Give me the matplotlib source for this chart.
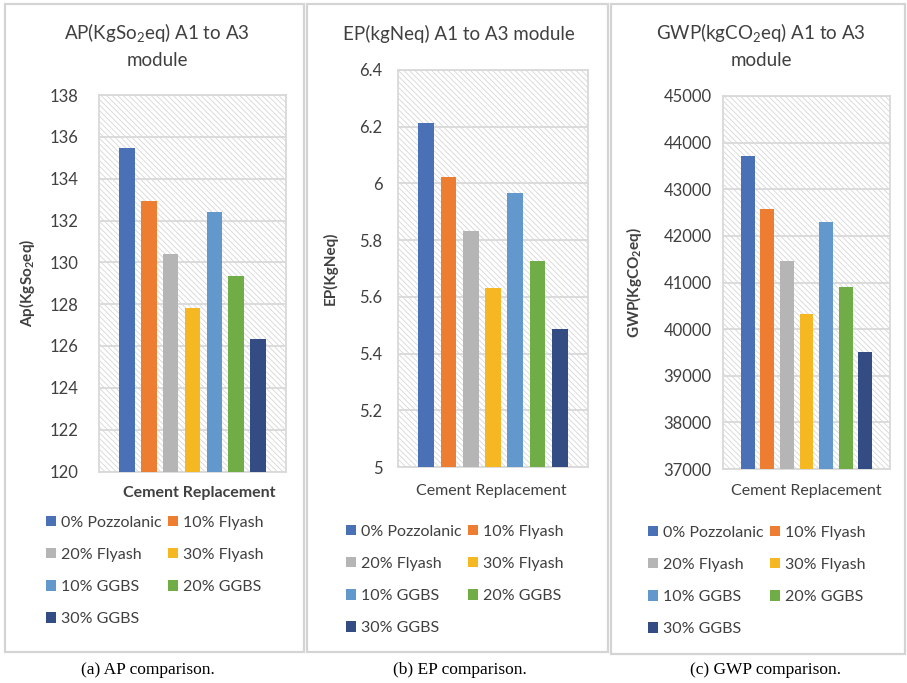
import matplotlib
matplotlib.use('Agg')
import matplotlib.pyplot as plt
from matplotlib.patches import Rectangle, Patch

plt.rcParams['font.family'] = ['Lato', 'DejaVu Sans']
plt.rcParams['mathtext.fontset'] = 'custom'
plt.rcParams['mathtext.rm'] = 'Lato'
plt.rcParams['mathtext.bf'] = 'Lato:bold'
plt.rcParams['hatch.linewidth'] = 0.6

SERIES = ['0% Pozzolanic', '10% Flyash', '20% Flyash', '30% Flyash',
          '10% GGBS', '20% GGBS', '30% GGBS']
COLORS = ['#4A70B5', '#ED7D31', '#B5B5B5', '#F5B822', '#6298CC', '#70AD47', '#334C84']

AP = [135.47, 132.94, 130.40, 127.84, 132.41, 129.35, 126.34]
EP = [6.212, 6.023, 5.832, 5.631, 5.968, 5.728, 5.488]
GWP = [43713, 42576, 41454, 40324, 42297, 40903, 39502]

AP_TICKS = [120, 122, 124, 126, 128, 130, 132, 134, 136, 138]
EP_TICKS = [5, 5.2, 5.4, 5.6, 5.8, 6, 6.2, 6.4]
EP_TICKLABELS = ['5', '5.2', '5.4', '5.6', '5.8', '6', '6.2', '6.4']
GWP_TICKS = [37000, 38000, 39000, 40000, 41000, 42000, 43000, 44000, 45000]

W, H = 907, 683
fig = plt.figure(figsize=(W / 100, H / 100), dpi=100)
fig.patch.set_facecolor('white')


def px_axes(l, t, r, b):
    return fig.add_axes([l / W, (H - b) / H, (r - l) / W, (b - t) / H])


def ftext(x, y, s, **kw):
    fig.text(x / W, 1 - y / H, s, ha='center', va='center', **kw)


def panel_box(l, t, r, b):
    fig.add_artist(Rectangle((l / W, 1 - b / H), (r - l) / W, (b - t) / H,
                             transform=fig.transFigure, fill=False,
                             edgecolor='#d4d4d4', lw=1.6))


def draw(box, vals, ticks, ticklabels, pad):
    ax = px_axes(*box)
    ax.add_patch(Rectangle((0, 0), 1, 1, transform=ax.transAxes, facecolor='white',
                           edgecolor='#d6d6d6', hatch='\\' * 6, lw=0, zorder=0))
    pitch, width = 0.117, 0.083
    for i, (v, c) in enumerate(zip(vals, COLORS)):
        ax.bar((i - 3) * pitch, v - ticks[0], bottom=ticks[0], width=width,
               color=c, zorder=3)
    ax.set_xlim(-0.5, 0.5)
    ax.set_ylim(ticks[0], ticks[-1])
    ax.set_yticks(ticks)
    ax.set_yticklabels(ticklabels)
    ax.set_xticks([])
    ax.tick_params(axis='y', length=0, pad=pad, labelsize=12, labelcolor='#404040')
    ax.grid(axis='y', color='#d9d9d9', lw=1.3, zorder=1)
    ax.set_axisbelow(False)
    for s in ax.spines.values():
        s.set_color('#d9d9d9')
        s.set_linewidth(1.3)
        s.set_zorder(2)
    return ax


def legend(x, y):
    handles = [Patch(facecolor=c, edgecolor='none') for c in COLORS]
    order = [0, 2, 4, 6, 1, 3, 5]
    fig.legend([handles[i] for i in order], [SERIES[i] for i in order],
               ncol=2, loc='upper left', bbox_to_anchor=(x / W, 1 - y / H),
               frameon=False, fontsize=11.5, handlelength=0.6, handleheight=0.6,
               handletextpad=0.35, columnspacing=0.4, labelspacing=1.13,
               labelcolor='#404040', borderaxespad=0, borderpad=0)


# panel frames
panel_box(5, 4, 304, 652)
panel_box(307, 4, 608, 652)
panel_box(611, 4, 905, 654)

tc = '#404040'

# (a) AP
draw((99, 95, 286, 471.5), AP, AP_TICKS, [str(t) for t in AP_TICKS], 15)
ftext(157, 33, r'AP(KgSo$_2$eq) A1 to A3', fontsize=13.5, color=tc)
ftext(157, 60, 'module', fontsize=13.5, color=tc)
ftext(27, 283, r'Ap(KgSo$_\mathbf{2}$eq)', fontsize=11, fontweight='bold',
      rotation=90, color=tc)
ftext(199, 493, 'Cement Replacement', fontsize=11.5, fontweight='bold', color=tc)
legend(46, 516)

# (b) EP
draw((398, 70, 588, 467), EP, EP_TICKS, EP_TICKLABELS, 11)
ftext(459, 34, 'EP(kgNeq) A1 to A3 module', fontsize=13.5, color=tc)
ftext(330, 268, 'EP(KgNeq)', fontsize=11, fontweight='bold', rotation=90, color=tc)
ftext(491, 491, 'Cement Replacement', fontsize=11.5, color=tc)
legend(346, 525)

# (c) GWP
draw((723, 96, 890, 469), GWP, GWP_TICKS, [str(t) for t in GWP_TICKS], 8)
ftext(761, 33, r'GWP(kgCO$_2$eq) A1 to A3', fontsize=13.5, color=tc)
ftext(761, 60, 'module', fontsize=13.5, color=tc)
ftext(634, 283, r'GWP(KgCO$_\mathbf{2}$eq)', fontsize=11, fontweight='bold',
      rotation=90, color=tc)
ftext(806, 491, 'Cement Replacement', fontsize=11.5, color=tc)
legend(648, 526)

# captions
cap = dict(fontsize=12.5, family='Liberation Serif', color='black')
ftext(148, 670, '(a) AP comparison.', **cap)
ftext(460, 670, '(b) EP comparison.', **cap)
ftext(766, 670, '(c) GWP comparison.', **cap)

fig.savefig('out.png', dpi=100)
